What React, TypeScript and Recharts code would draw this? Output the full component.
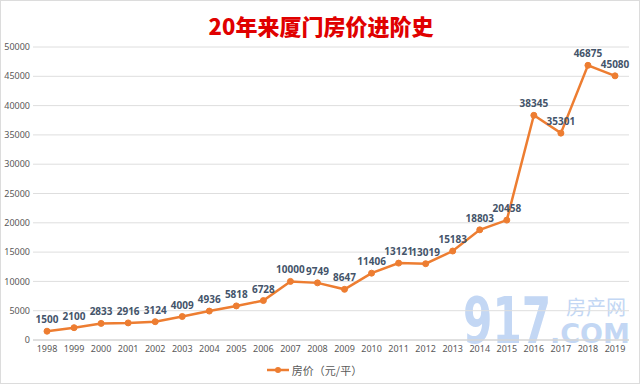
import React from "react";
import { LineChart, Line, XAxis, YAxis, CartesianGrid, Legend, LabelList } from "recharts";

const years = [
  "1998", "1999", "2000", "2001", "2002", "2003", "2004", "2005", "2006", "2007", "2008",
  "2009", "2010", "2011", "2012", "2013", "2014", "2015", "2016", "2017", "2018", "2019",
];
const prices = [
  1500, 2100, 2833, 2916, 3124, 4009, 4936, 5818, 6728, 10000, 9749,
  8647, 11406, 13121, 13019, 15183, 18803, 20458, 38345, 35301, 46875, 45080,
];
const yTicks = [0, 5000, 10000, 15000, 20000, 25000, 30000, 35000, 40000, 45000, 50000];

const SERIES = "房价（元/平）";
const ORANGE = "#ED7D31";
const WM = "#c3d7f4";

const data = years.map((y, i) => ({ year: y, [SERIES]: prices[i] }));

const font = "'Noto Sans CJK SC', 'Noto Sans', sans-serif";
const tickFont = "'Noto Sans', sans-serif";

export default function App() {
  return (
    <div
      style={{
        position: "absolute",
        left: 0,
        top: 0,
        width: 640,
        height: 384,
        background: "#fff",
        boxSizing: "border-box",
        border: "1px solid #dcdcdc",
        fontFamily: font,
        overflow: "hidden",
      }}
    >
      <div
        style={{
          position: "absolute",
          top: 9,
          left: 0,
          width: 640,
          textAlign: "center",
          color: "#e00000",
          fontSize: 22,
          lineHeight: "30px",
          fontWeight: 900,
          fontFamily: font,
        }}
      >
        20年来厦门房价进阶史
      </div>

      {/* watermark */}
      <div
        style={{
          position: "absolute",
          left: 462,
          top: 297,
          fontSize: 64,
          fontWeight: 900,
          color: WM,
          fontFamily: "'DejaVu Sans', sans-serif",
          lineHeight: "46px",
          whiteSpace: "nowrap",
          transform: "scaleX(0.66)",
          transformOrigin: "left top",
        }}
      >
        917
      </div>
      <div
        style={{
          position: "absolute",
          left: 565,
          top: 295,
          fontSize: 20,
          color: WM,
          fontFamily: font,
          lineHeight: "22px",
          whiteSpace: "nowrap",
        }}
      >
        房产网
      </div>
      <div
        style={{
          position: "absolute",
          left: 549,
          top: 322,
          fontSize: 27,
          fontWeight: 700,
          color: WM,
          fontFamily: "'DejaVu Sans', sans-serif",
          lineHeight: "22px",
          whiteSpace: "nowrap",
        }}
      >
        .COM
      </div>

      <LineChart
        width={640}
        height={384}
        data={data}
        margin={{ top: 47, right: 11, bottom: 4, left: 0 }}
        style={{ position: "absolute", left: -1, top: -1 }}
      >
        <CartesianGrid vertical={false} stroke="#dedede" />
        <XAxis
          dataKey="year"
          axisLine={{ stroke: "#d0d0d0" }}
          tickLine={false}
          tickSize={4}
          padding={{ left: 14, right: 14 }}
          tick={{ fontSize: 9, fill: "#595959", fontFamily: tickFont }}
          height={20}
          interval={0}
        />
        <YAxis
          domain={[0, 50000]}
          ticks={yTicks}
          axisLine={false}
          tickLine={false}
          width={33}
          tickSize={3}
          tickMargin={0}
          tick={{ fontSize: 9, fill: "#595959", fontFamily: tickFont }}
        />
        <Legend
          verticalAlign="bottom"
          height={20}
          content={() => (
            <div
              style={{
                display: "flex",
                justifyContent: "center",
                alignItems: "center",
                fontSize: 11,
                color: "#595959",
                fontFamily: font,
                height: 20,
              }}
            >
              <svg width={22} height={10} style={{ marginRight: 3 }}>
                <line x1={0} y1={5} x2={22} y2={5} stroke={ORANGE} strokeWidth={2.5} />
                <circle cx={11} cy={5} r={3} fill={ORANGE} />
              </svg>
              {SERIES}
            </div>
          )}
        />
        <Line
          type="linear"
          dataKey={SERIES}
          stroke={ORANGE}
          strokeWidth={2.5}
          dot={{ r: 3, fill: ORANGE, stroke: ORANGE, strokeWidth: 1 }}
          isAnimationActive={false}
        >
          <LabelList
            dataKey={SERIES}
            position="top"
            offset={8}
            style={{ fontSize: 10, fontWeight: 700, fill: "#44546a", fontFamily: tickFont }}
          />
        </Line>
      </LineChart>
    </div>
  );
}
